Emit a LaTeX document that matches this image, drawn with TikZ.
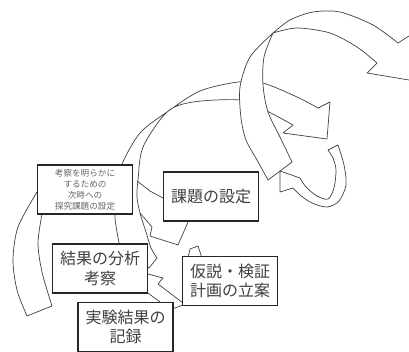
\documentclass[tikz,border=0pt]{standalone}
\usepackage{fontspec}
\newfontfamily\jp{Noto Sans CJK JP}
\begin{document}
\begin{tikzpicture}[x=1pt,y=-1pt,
  band/.style={draw=black!75, line width=0.7pt, fill=white, line join=round},
  edge/.style={draw=black!75, line width=0.7pt, line join=round},
  box/.style={draw=black!85, line width=1.3pt, fill=white, inner sep=0pt,
    minimum width=95pt, minimum height=49pt, align=center, text=black!75},
  big/.style={font=\jp\fontsize{16}{19.5}\selectfont},
  small/.style={font=\jp\fontsize{8.6}{11}\selectfont, text=black!60}]
\useasboundingbox (0,0) rectangle (409,351);
\clip (0,0) rectangle (409,351);

% band 2 (middle loop, twisted)
\path[band] plot[smooth] coordinates {(120,248) (116,226) (115,212) (118,185) (122,164) (140,133) (167,112) (200,91) (238,82) (263,83) (297,97) (318,108)}
  -- (330,102) -- (327,139) -- (283,133) -- (293,125)
  -- plot[smooth] coordinates {(293,125) (265,110) (240,100) (193,102) (167,112) (143,147) (138,180) (137,197) (140,213) (146,232) (151,248) (157,258)}
  -- (149,268) -- cycle;

% band 3 (large outer loop)
\path[band] plot[smooth] coordinates {(273,33) (297,28) (330,33) (357,47) (377,63)}
  -- (367,73) -- (445,86) -- (420,29) -- (398,43)
  -- plot[smooth] coordinates {(398,43) (373,25) (340,12) (313,12) (290,20) (273,33)} -- cycle;
\path[band] plot[smooth] coordinates {(273,33) (250,57) (240,87) (241,118) (246,140) (257,160) (268,180)}
  -- (292,162)
  -- plot[smooth] coordinates {(292,162) (280,137) (268,112) (263,85) (264,57) (273,33)} -- cycle;

% band 4 (small curl)
\path[band] (328,150) -- (338,145)
  -- plot[smooth] coordinates {(338,145) (344,165) (346,185) (339,201) (327,207) (312,203) (300,195) (293,188)}
  -- (280,192) -- (280,171) -- (300,178)
  -- plot[smooth] coordinates {(300,178) (306,187) (317,196) (328,199) (334,188) (336,170) (333,158) (328,150)} -- cycle;

% band L (leftmost)
\path[band] plot[smooth] coordinates {(27,316) (17,290) (13,260) (18,227) (37,192)}
  -- (42,214) -- plot[smooth] coordinates {(42,214) (38,243) (42,272) (52,306)} -- cycle;

% inner loop strokes
\path[edge] (137,181) -- (150,191) -- (163,198);
\path[edge] (188,222) -- (178,245) -- (150,236) -- (152,227) -- (140,213);
\path[band] (188,258) -- (190,249) -- (198,246) -- (202,258);
\path[edge] (148,274) -- (163,278) -- (158,284) -- (183,303);
\path[edge] (148,293) -- (160,302);
\path[edge] (172,309) -- (183,305);

% boxes
\node[box, small] (b1) at (85,189.5) {考察を明らかに\\するための\\次時への\\探究課題の設定};
\node[box, big] (b2) at (211,196.5) {課題の設定};
\node[box, big] (b3) at (100,268.5) {結果の分析\\考察};
\node[box, big] (b4) at (230,281) {仮説・検証\\計画の立案};
\node[box, big] (b5) at (125.5,327) {実験結果の\\記録};
\end{tikzpicture}
\end{document}
